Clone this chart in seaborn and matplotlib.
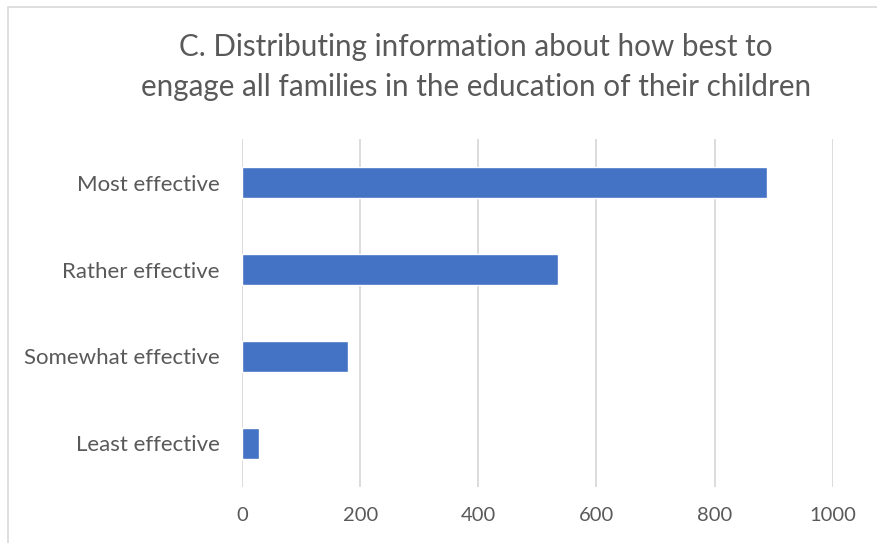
import pandas as pd
import matplotlib.pyplot as plt
from matplotlib.patches import Rectangle
import seaborn as sns

# Data
categories = ["Most effective", "Rather effective", "Somewhat effective", "Least effective"]
responses = [889, 535, 179, 28]
x_ticks = [0, 200, 400, 600, 800, 1000]
title_lines = ["C. Distributing information about how best to",
               "engage all families in the education of their children"]

df = pd.DataFrame({"Category": categories, "Responses": responses})

sns.set_style("white")
plt.rcParams["font.family"] = ["Lato", "DejaVu Sans"]

text_color = "#595959"
grid_color = "#d9d9d9"

fig = plt.figure(figsize=(8.78, 5.43), dpi=100)
ax = fig.add_axes([242 / 878, 1 - 486.7 / 543, (832.7 - 242) / 878, (486.7 - 139.3) / 543])

sns.barplot(data=df, x="Responses", y="Category", orient="h",
            color="#4472C4", width=0.354, saturation=1, ax=ax, zorder=3)

ax.set_xlim(0, 1000)
ax.set_ylim(3.5, -0.5)
ax.set_xticks(x_ticks)
ax.set_xticklabels([str(t) for t in x_ticks])
ax.set_xlabel("")
ax.set_ylabel("")
ax.xaxis.grid(True, color=grid_color, linewidth=1.3, zorder=0)
ax.yaxis.grid(False)
ax.set_axisbelow(True)
for s in ax.spines.values():
    s.set_visible(False)
ax.tick_params(axis="x", length=0, pad=14.5, labelsize=14.5, labelcolor=text_color)
ax.tick_params(axis="y", length=0, pad=16, labelsize=16, labelcolor=text_color)

# Two-line title
fig.text(476 / 878, 1 - 47 / 543, title_lines[0], ha="center", va="center",
         fontsize=21.3, color=text_color)
fig.text(476 / 878, 1 - 87 / 543, title_lines[1], ha="center", va="center",
         fontsize=21.3, color=text_color)

# Chart border (only top and left show inside the crop)
fig.add_artist(Rectangle((8 / 878, -0.2), 1.2, 1.2 - 7 / 543, transform=fig.transFigure,
                         fill=False, edgecolor=grid_color, linewidth=1.2))

fig.savefig("out.png", dpi=100)
